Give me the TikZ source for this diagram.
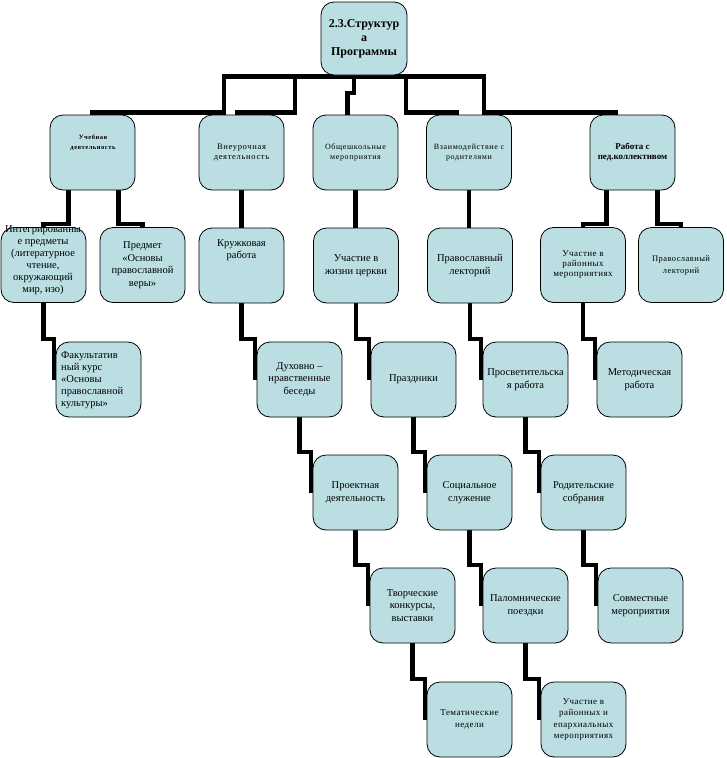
\documentclass[tikz,border=0pt]{standalone}
\usepackage{fontspec}
\setmainfont{Liberation Serif}
\newfontfamily\spacedA[LetterSpace=8]{Liberation Serif}
\newfontfamily\spacedB[LetterSpace=5]{Liberation Serif}
\usetikzlibrary{backgrounds,calc}
\definecolor{boxfill}{RGB}{186,222,226}
\tikzset{
  box/.style={draw=black, line width=0.8pt, fill=boxfill, rounded corners=13pt,
    minimum width=85pt, minimum height=75pt, inner sep=0pt, align=center,
    font=\fontsize{10.5}{12.5}\selectfont},
  lbl/.style={inner sep=0pt, align=center, font=\fontsize{10.5}{12.5}\selectfont},
  conn/.style={draw=black, line width=4.5pt, line join=miter},
}
\begin{document}
\begin{tikzpicture}[x=1pt,y=-1pt]
\useasboundingbox (0,0) rectangle (726,758);

% root
\node[box, minimum width=86pt, minimum height=73pt, font=\bfseries\fontsize{12}{14}\selectfont] (root) at (364,38.5) {2.3.Структур\\а\\Программы};

% level 1
\node[box] (A1) at (92.5,152.5) {};
\node[lbl, font=\spacedA\bfseries\fontsize{6.5}{10}\selectfont] (tA1) at (93,143) {Учебная\\деятельность};
\node[box, font=\spacedA\fontsize{8.5}{9.5}\selectfont] (A2) at (241.5,152.5) {Внеурочная\\деятельность};
\node[box, font=\spacedA\fontsize{8}{9.5}\selectfont] (A3) at (355.5,152.5) {Общешкольные\\мероприятия};
\node[box, font=\spacedA\fontsize{8}{9.5}\selectfont] (A4) at (469,152.5) {Взаимодействие с\\родителями};
\node[box, font=\bfseries\fontsize{9}{10}\selectfont] (A5) at (632.5,152.5) {Работа с\\пед.коллективом};

% level 2
\node[box] (B1) at (43.5,265) {};
\node[lbl, font=\fontsize{10.5}{12}\selectfont] (tB1) at (43,260) {Интегрированны\\е предметы\\(литературное\\чтение,\\окружающий\\мир, изо)};
\node[box] (B2) at (142.5,265) {Предмет\\«Основы\\православной\\веры»};
\node[box] (B3) at (241.5,265.5) {};
\node[lbl, font=\fontsize{10.5}{11.5}\selectfont] (tB3) at (241.5,250) {Кружковая\\работа};
\node[box] (B4) at (356,265.5) {Участие в\\жизни церкви};
\node[box] (B5) at (470,265.5) {Православный\\лекторий};
\node[box, font=\spacedB\fontsize{9}{10}\selectfont] (B6) at (583,265) {Участие в\\районных\\мероприятиях};
\node[box, font=\spacedB\fontsize{8.5}{12}\selectfont] (B7) at (681,265) {Православный\\лекторий};

% level 3
\node[box] (C1) at (98.5,379.5) {};
\node[lbl, anchor=west, align=left, font=\fontsize{10.5}{12}\selectfont] (tC1) at (61,380.5) {Факультатив\\ный курс\\«Основы\\православной\\культуры»};
\node[box] (C2) at (299.5,379.5) {Духовно –\\нравственные\\беседы};
\node[box] (C3) at (413.5,379.5) {Праздники};
\node[box] (C4) at (525.5,379.5) {Просветительска\\я работа};
\node[box] (C5) at (639.5,379.5) {Методическая\\работа};

% level 4
\node[box] (D1) at (355.5,492.5) {Проектная\\деятельность};
\node[box] (D2) at (469.5,492.5) {Социальное\\служение};
\node[box] (D3) at (583.5,492.5) {Родительские\\собрания};

% level 5
\node[box] (E1) at (412.5,605.5) {Творческие\\конкурсы,\\выставки};
\node[box] (E2) at (525.5,605.5) {Паломнические\\поездки};
\node[box] (E3) at (640.5,605.5) {Совместные\\мероприятия};

% level 6
\node[box, font=\spacedB\fontsize{9}{12}\selectfont] (F1) at (469.5,719.5) {Тематические\\недели};
\node[box, font=\spacedB\fontsize{9}{11.5}\selectfont] (F2) at (583.5,719.5) {Участие в\\районных и\\епархиальных\\мероприятиях};

\begin{scope}[on background layer]
  % root to level 1
  \draw[conn] ([yshift=-1pt]root.south) -| (224,112.5) -| (A1.north);
  \draw[conn] ([yshift=-1pt]root.south) -| (295,112.5) -| ([xshift=-4pt]A2.north);
  \draw[conn] ([yshift=-1pt]root.south) -| (354,93) -| ([xshift=-8pt]A3.north);
  \draw[conn] ([yshift=-1pt]root.south) -| (406,112.5) -| ([xshift=-12pt]A4.north);
  \draw[conn] ([yshift=-1pt]root.south) -| (484,112.5) -| ([xshift=-17pt]A5.north);
  % level 1 to level 2
  \draw[conn] ([xshift=-24pt]A1.south) |- ([yshift=3pt]B1.north) -- (B1.north);
  \draw[conn] ([xshift=26pt]A1.south) |- ([yshift=3pt]B2.north) -- (B2.north);
  \draw[conn] (A2.south) -- (A2.south |- B3.north);
  \draw[conn] (A3.south) -- (A3.south |- B4.north);
  \draw[conn] (A4.south) -- (A4.south |- B5.north);
  \draw[conn] ([xshift=-26pt]A5.south) |- ([yshift=3pt]B6.north) -- (B6.north);
  \draw[conn] ([xshift=25pt]A5.south) |- ([yshift=3pt]B7.north) -- (B7.north);
  % hanging chains
  \foreach \p/\c in {B1/C1,B3/C2,B4/C3,B5/C4,B6/C5,C2/D1,C3/D2,C4/D3,D1/E1,D2/E2,D3/E3,E1/F1,E2/F2}{
    \draw[conn] (\p.south) |- ([shift={(-1.5pt,2.5pt)}]\c.north west) -- ([xshift=-1.5pt]\c.west);
  }
\end{scope}
\end{tikzpicture}
\end{document}
